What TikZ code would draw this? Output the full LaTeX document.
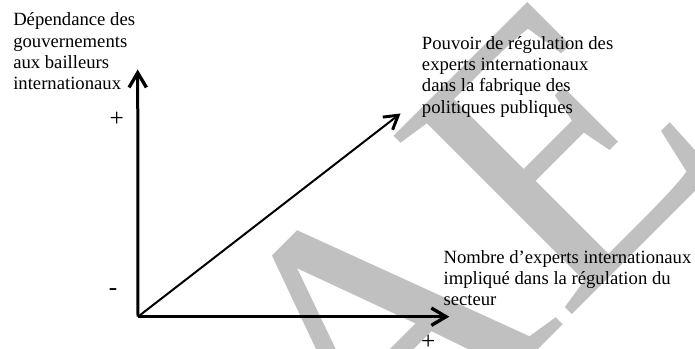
\documentclass[tikz,border=0pt]{standalone}
\usepackage{fontspec}
\setmainfont{Liberation Serif}
\usetikzlibrary{arrows.meta}
\definecolor{wmgray}{RGB}{192,192,192}
\newcommand\mylines[1]{\vtop{\baselineskip=16pt #1}}
\tikzset{
  lbl/.style={inner sep=0pt, font=\fontsize{14}{16}\selectfont, anchor=base west},
  sgn/.style={inner sep=0pt, font=\fontsize{19}{20}\selectfont, anchor=base},
  axisline/.style={line width=2.25pt, -{Straight Barb[length=11pt,width=13pt,line width=2.5pt]}},
  diagline/.style={line width=1.5pt, -{Straight Barb[length=10pt,width=12pt,line width=2.2pt]}},
  wm/.style={inner sep=0pt, anchor=base west, text=wmgray, rotate=45, font=\fontsize{289}{300}\selectfont}
}
\begin{document}
\begin{tikzpicture}[x=0.75pt,y=-0.75pt]
\useasboundingbox (0,0) rectangle (695,349);
\fill[white] (0,0) rectangle (695,349);
\begin{scope}
\clip (0,0) rectangle (695,349);
\node[wm] (wmark) at (368,519.5) {AE};
\end{scope}
% axes
\coordinate (O) at (138,316.7);
\coordinate (Y) at (137.7,69.5);
\coordinate (X) at (449.3,316.7);
\coordinate (D) at (400.5,113.5);
\draw[axisline] (O) -- (Y);
\draw[axisline] (O) -- (X);
\draw[diagline] (O) -- (D);
% labels
\node[lbl] (ylabel) at (13,26) {\mylines{\hbox{Dépendance des}\hbox{gouvernements}\hbox{aux bailleurs}\hbox{internationaux}}};
\node[lbl] (dlabel) at (421.7,49.3) {\mylines{\hbox{Pouvoir de régulation des}\hbox{experts internationaux}\hbox{dans la fabrique des}\hbox{politiques publiques}}};
\node[lbl] (xlabel) at (443.3,263) {\mylines{\hbox{Nombre d’experts internationaux}\hbox{impliqué dans la régulation du}\hbox{secteur}}};
\node[sgn] (yplus) at (116.7,126.7) {+};
\node[sgn] (yminus) at (113,295) {-};
\node[sgn] (xplus) at (428.3,349.5) {+};
\end{tikzpicture}
\end{document}
